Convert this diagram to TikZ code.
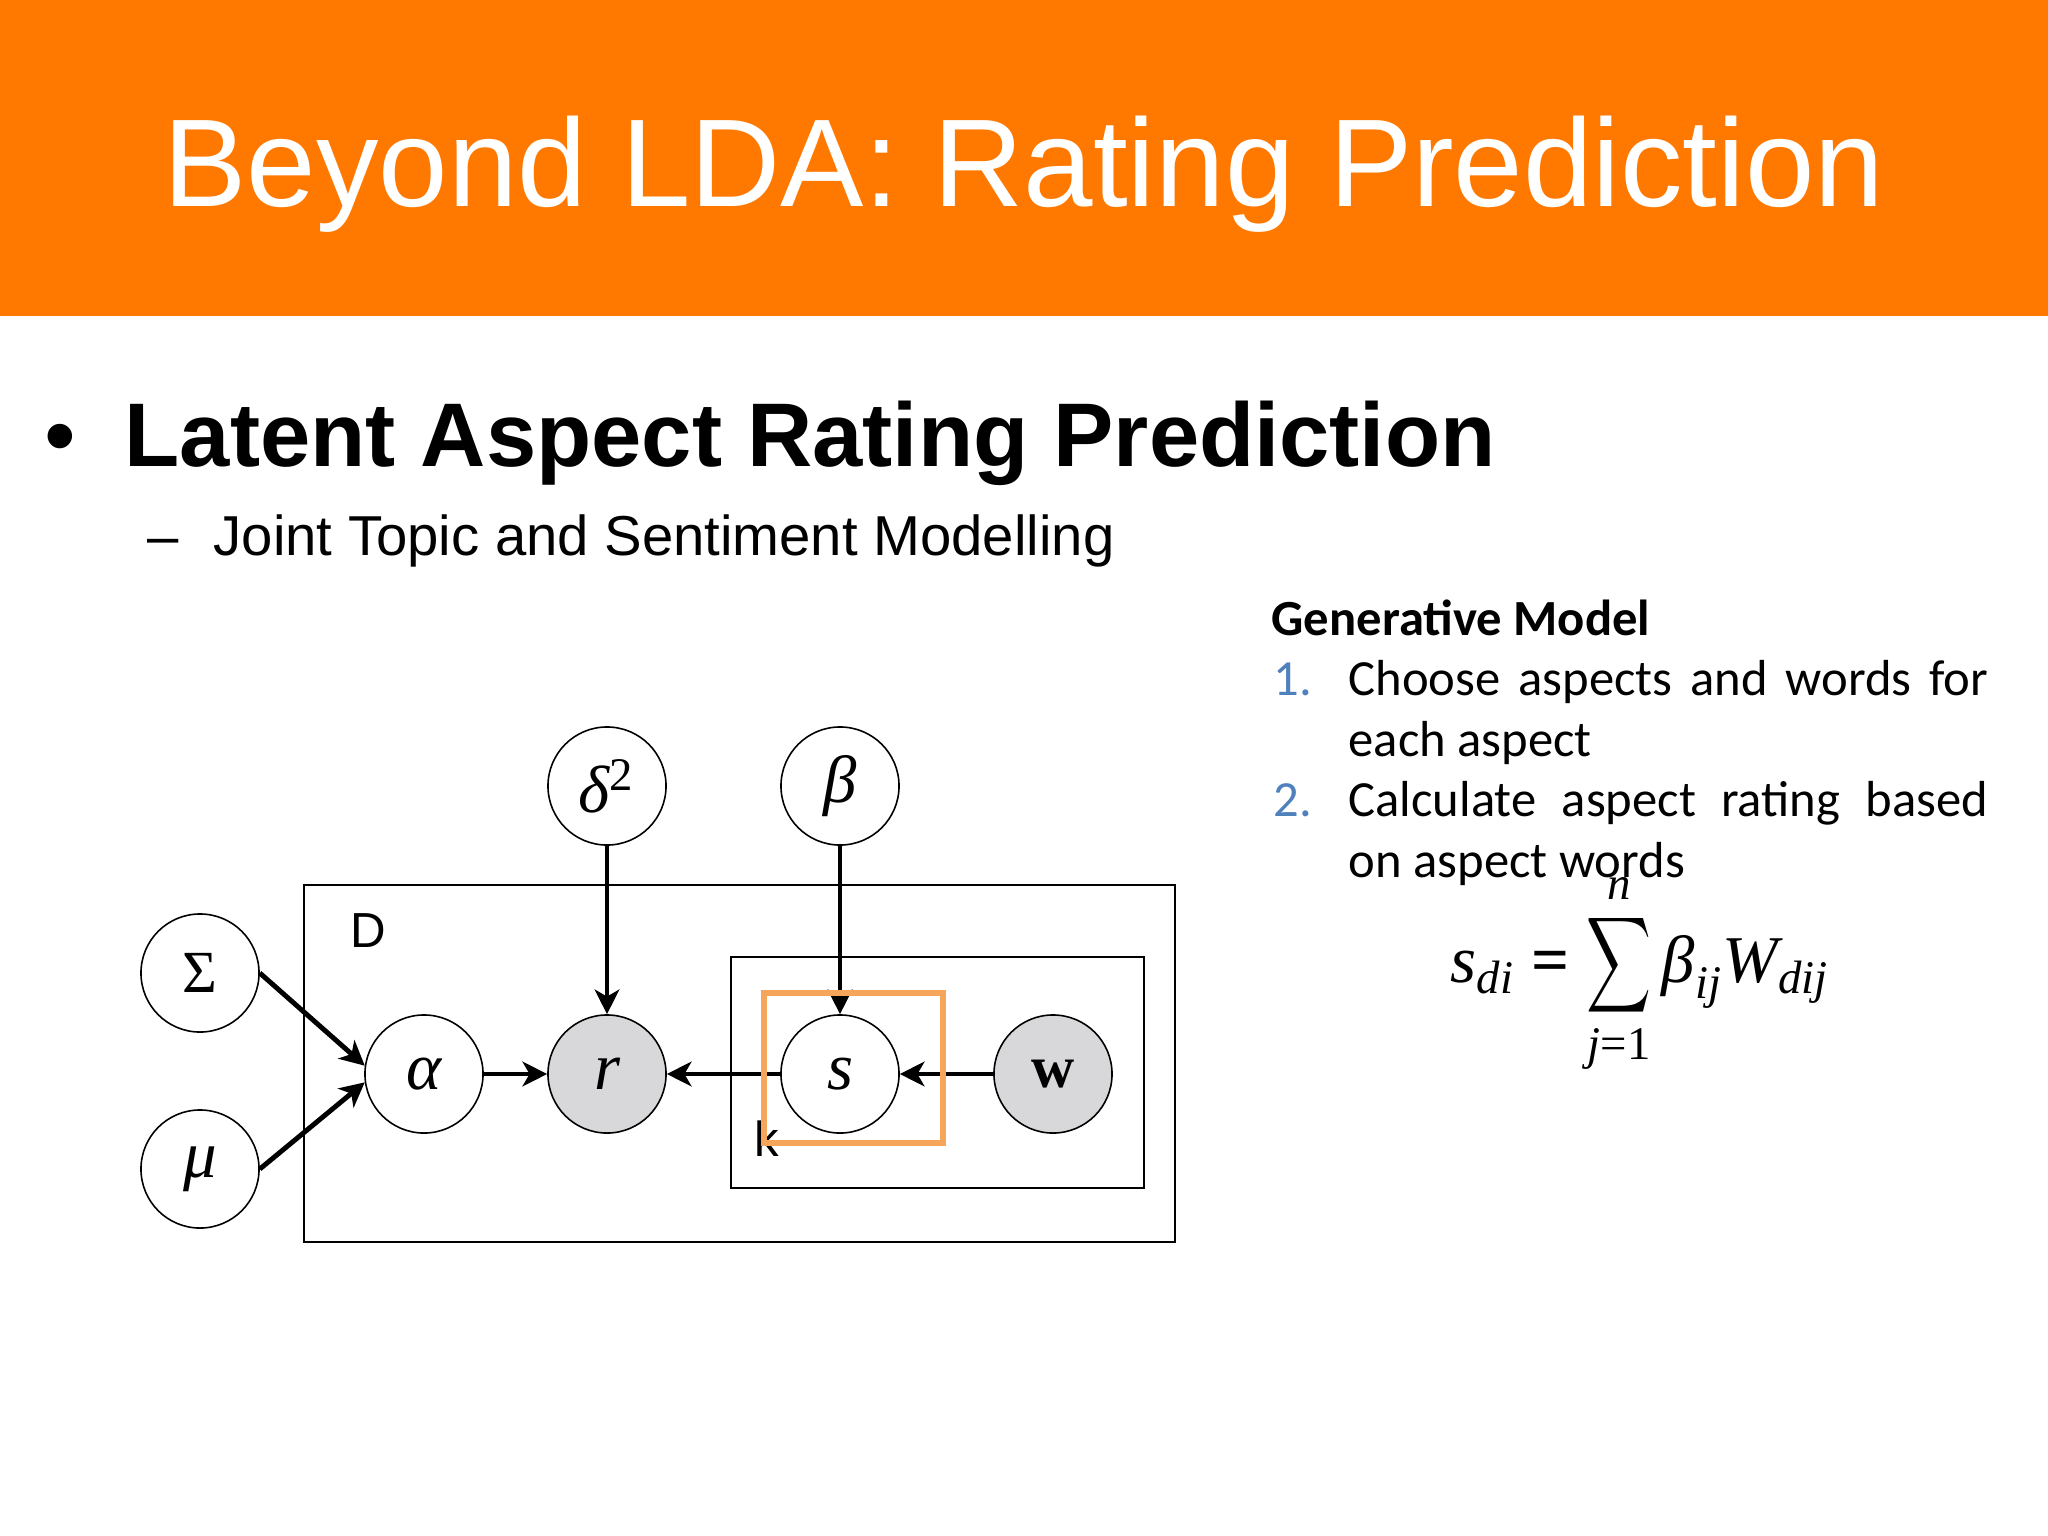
\documentclass[tikz,border=0pt]{standalone}
\usepackage{amsmath}
\usepackage{graphicx}
\usepackage{fontspec}
\setmainfont{Liberation Sans}
\newfontfamily\calibrifont{Carlito}
\newfontfamily\serifont{Liberation Serif}
\usepackage{xcolor}
\usetikzlibrary{arrows.meta}

\definecolor{headorange}{RGB}{255,121,0}
\definecolor{markorange}{RGB}{245,166,91}
\definecolor{numblue}{RGB}{79,129,189}
\definecolor{nodegray}{RGB}{216,216,218}

\newcommand{\tv}[1]{\text{\serifont\itshape #1}}
\newcommand{\narrowsum}{\mathop{\scalebox{0.74}[1.1]{$\displaystyle\sum$}}\limits}

\tikzset{
	var/.style={circle,draw,line width=0.45pt,minimum size=1.18cm,inner sep=0pt,font=\serifont\itshape\fontsize{19}{22}\selectfont},
	obs/.style={var,fill=nodegray},
	edge/.style={line width=1.4pt,-{Stealth[length=7pt,width=7pt,inset=2pt]}},
	plate/.style={draw,line width=0.45pt},
	platelabel/.style={anchor=base west,inner sep=0pt,font=\fontsize{14}{16}\selectfont},
	gmtext/.style={anchor=base west,inner sep=0pt,font=\calibrifont\fontsize{14.4}{17.35}\selectfont},
	gmnum/.style={gmtext,text=numblue},
}

\begin{document}
\begin{tikzpicture}[x=0.01cm,y=-0.01cm]
	\useasboundingbox[fill=white] (0,0) rectangle (2048,1536);
	\fill[headorange] (0,0) rectangle (2048,316);
	\node (title) at (1024,206) [anchor=base,inner sep=0pt,text=white,font=\fontsize{35.5}{40}\selectfont] {Beyond LDA: Rating Prediction};

	\node (bullet) at (60,466) [anchor=base,inner sep=0pt,font=\fontsize{25.7}{30}\selectfont] {\textbullet};
	\node (head) at (124,466) [anchor=base west,inner sep=0pt,font=\bfseries\fontsize{25.7}{30}\selectfont] {Latent Aspect Rating Prediction};
	\node (dash) at (163,555) [anchor=base,inner sep=0pt,font=\fontsize{16}{19}\selectfont] {--};
	\node (sub) at (213,555) [anchor=base west,inner sep=0pt,font=\fontsize{16}{19}\selectfont] {Joint Topic and Sentiment Modelling};

	\draw[plate] (304,885) rectangle (1175,1242);
	\draw[plate] (731,957) rectangle (1144,1188);
	\node[platelabel] (dlab) at (350,947) {D};
	\node[platelabel] (klab) at (754,1156) {k};

	\node[var,font=\serifont\fontsize{17}{20}\selectfont] (sig) at (200,973) {Σ};
	\node[var] (mu) at (200,1169) {μ};
	\node[var] (al) at (424,1074) {α};
	\node[obs] (r) at (607,1074) {r};
	\node[var] (s) at (840,1074) {s};
	\node[obs,font=\serifont\bfseries\fontsize{17}{20}\selectfont] (w) at (1053,1074) {w};
	\node[var] (del) at (607,786) {δ\textsuperscript{\upshape 2}};
	\node[var] (bet) at (840,786) {β};

	\draw[edge] (sig.east) -- (al.172);
	\draw[edge] (mu.east) -- (al.188);
	\draw[edge] (al) -- (r);
	\draw[edge] (s) -- (r);
	\draw[edge] (w) -- (s);
	\draw[edge] (del) -- (r);
	\draw[edge] (bet) -- (s);

	\draw[markorange,line width=1.7pt] (764,993) rectangle (943,1143);

	\node[gmtext,font=\calibrifont\bfseries\fontsize{14.4}{17.35}\selectfont] (gm) at (1271,635) {Generative Model};
	\node[gmnum] (n1) at (1273,695) {1.};
	\node[gmtext,text width=6.39cm,align=justify] (t1) at (1348,695) {Choose aspects and words for\linebreak each aspect};
	\node[gmnum] (n2) at (1273,816) {2.};
	\node[gmtext,text width=6.39cm,align=justify] (t2) at (1348,816) {Calculate aspect rating based\linebreak on aspect words};

	\node (eq) at (1450,982) [anchor=base west,inner sep=0pt,font=\fontsize{19}{23}\selectfont] {$\displaystyle \tv{s}_{\tv{di}} \mathrel{\text{\serifont\bfseries =}} \narrowsum_{\tv{j}\text{\serifont =1}}^{\tv{n}}\tv{β}_{\tv{ij}}\tv{W}_{\tv{dij}}$};
\end{tikzpicture}
\end{document}
